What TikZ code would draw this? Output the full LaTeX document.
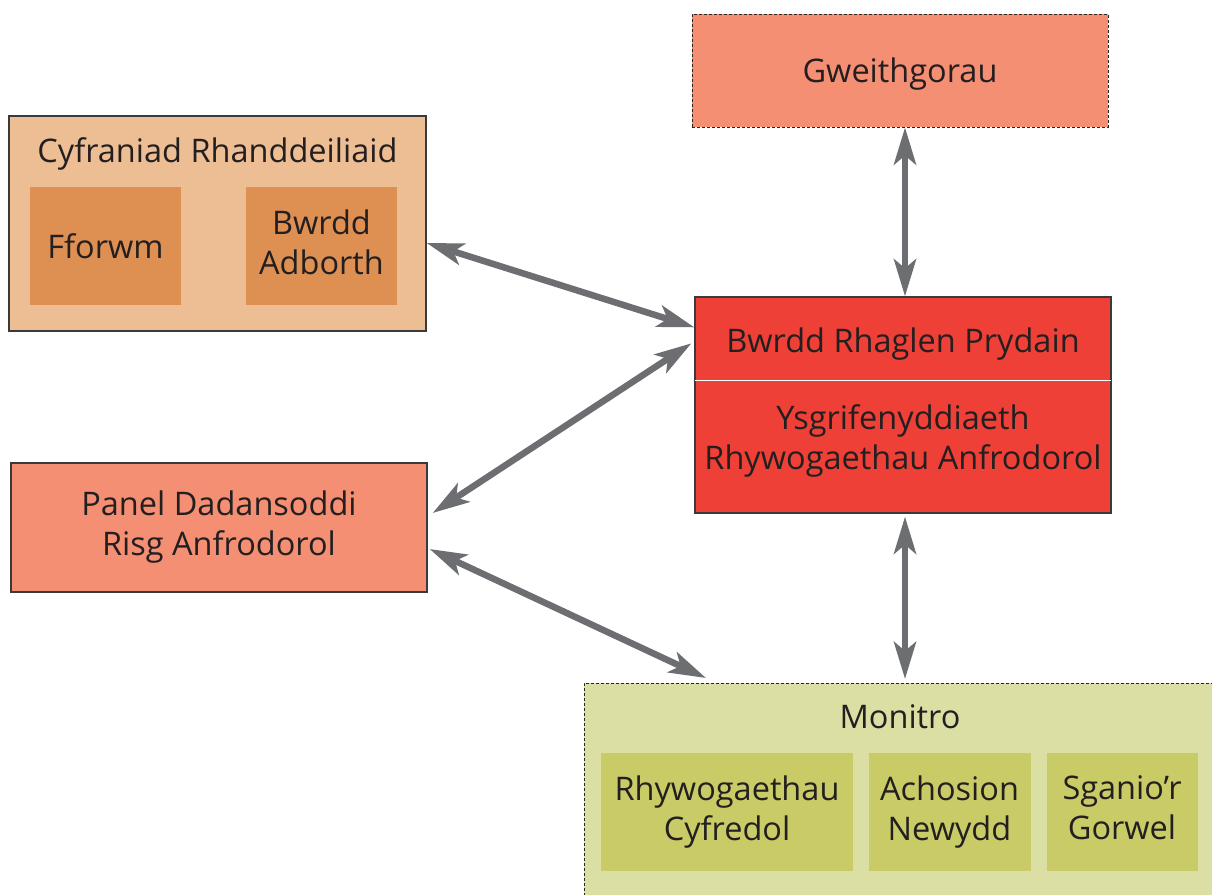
\documentclass[tikz,border=0pt]{standalone}
\usepackage{fontspec}
\setmainfont{Open Sans}
\usetikzlibrary{arrows.meta}
\definecolor{salmon}{HTML}{F58F73}
\definecolor{peach}{HTML}{EDBE93}
\definecolor{orangebox}{HTML}{DE9053}
\definecolor{redbox}{HTML}{EE4036}
\definecolor{olivelight}{HTML}{DCDFA3}
\definecolor{olivebox}{HTML}{C8CB66}
\definecolor{arrowgray}{HTML}{6D6E71}
\definecolor{textdark}{HTML}{231F20}
\definecolor{borderdark}{HTML}{3A3A3A}
\newcommand\mystrut{\rule[-8pt]{0pt}{40pt}}
\tikzset{
  x=1pt, y=-1pt,
  every node/.style={font=\fontsize{32.5}{40}\selectfont, text=textdark, align=center, inner sep=0pt},
  txt/.style={execute at begin node=\mystrut, execute at end node=\mystrut},
  solidbox/.style={draw=borderdark, line width=1.3pt, rectangle},
  dashbox/.style={draw=black!85, line width=0.9pt, dash pattern=on 3pt off 2pt, rectangle},
  innerbox/.style={rectangle, draw=none, txt},
  conn/.style={draw=arrowgray, line width=6.5pt, {Stealth[length=37pt,width=22pt,inset=9pt]}-{Stealth[length=37pt,width=22pt,inset=9pt]}},
}
\begin{document}
\begin{tikzpicture}
\useasboundingbox (0,0) rectangle (1212,894);
\clip (0,0) rectangle (1212,894);
\fill[white] (0,0) rectangle (1212,894);

% Gweithgorau
\node[dashbox, fill=salmon, minimum width=416pt, minimum height=113pt] (gw) at (900,70.5) {};
\node[txt] (gwt) at (900,70) {Gweithgorau};

% Cyfraniad Rhanddeiliaid
\node[solidbox, fill=peach, minimum width=417pt, minimum height=215pt] (cyf) at (217.5,223.5) {};
\node[txt] (cyft) at (217.5,150) {Cyfraniad Rhanddeiliaid};
\node[innerbox, fill=orangebox, minimum width=151pt, minimum height=118pt] (ff) at (105.5,246) {Fforwm};
\node[innerbox, fill=orangebox, minimum width=151pt, minimum height=118pt] (ba) at (321.5,246) {Bwrdd\\Adborth};

% Panel
\node[solidbox, txt, fill=salmon, minimum width=416pt, minimum height=129pt] (panel) at (219,527.5) {Panel Dadansoddi\\Risg Anfrodorol};

% Bwrdd Rhaglen Prydain
\node[solidbox, fill=redbox, minimum width=416pt, minimum height=216pt] (bw) at (903,405) {};
\coordinate (divl) at ([yshift=-84pt]bw.north west);
\coordinate (divr) at ([yshift=-84pt]bw.north east);
\draw[white, line width=1.5pt] ([xshift=1pt]divl) -- ([xshift=-1pt]divr);
\node[txt] (bwt) at (903,340) {Bwrdd Rhaglen Prydain};
\node[txt] (bwb) at (903,441) {Ysgrifenyddiaeth\\Rhywogaethau Anfrodorol};

% Monitro
\node[dashbox, fill=olivelight, minimum width=650pt, minimum height=230pt, anchor=north west] (mon) at (584,683) {};
\node[txt] (mont) at (900,716) {Monitro};
\node[innerbox, fill=olivebox, minimum width=252pt, minimum height=118pt] (r1) at (727,812) {Rhywogaethau\\Cyfredol};
\node[innerbox, fill=olivebox, minimum width=162pt, minimum height=118pt] (r2) at (949.5,812) {Achosion\\Newydd};
\node[innerbox, fill=olivebox, minimum width=151pt, minimum height=118pt] (r3) at (1122,812) {Sganio’r\\Gorwel};

% connectors
\draw[conn] ([xshift=5pt]gw.south) -- ([xshift=2pt]bw.north);
\draw[conn] ([yshift=-19.5pt]cyf.east) -- ([yshift=-31pt]bw.north west);
\draw[conn] ([xshift=5pt,yshift=14.5pt]panel.east) -- ([xshift=-3pt,yshift=-47pt]bw.north west);
\draw[conn] ([xshift=2pt,yshift=-21.5pt]panel.east) -- ([xshift=122pt,yshift=5pt]mon.north west);
\draw[conn] ([xshift=2pt,yshift=-3pt]bw.south) -- ([xshift=321pt,yshift=4pt]mon.north west);
\end{tikzpicture}
\end{document}
